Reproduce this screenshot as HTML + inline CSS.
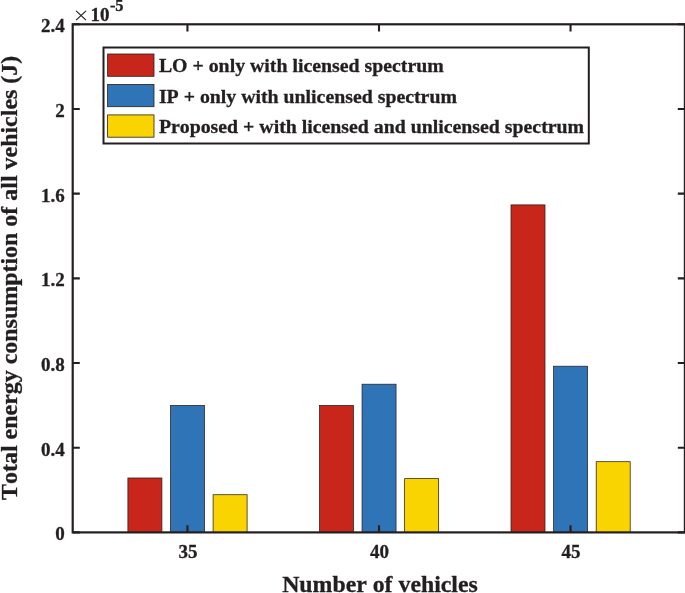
<!DOCTYPE html>
<html><head><meta charset="utf-8"><title>chart</title>
<style>
html,body{margin:0;padding:0;background:#fff;}
body{width:685px;height:593px;overflow:hidden;}
svg{display:block;will-change:transform;}
text{font-kerning:none;font-variant-ligatures:none;font-family:"Liberation Serif",serif;font-weight:bold;fill:#231f20;stroke:#231f20;stroke-width:0.3px;}
</style></head><body>
<svg width="685" height="593" viewBox="0 0 685 593">
<rect x="0" y="0" width="685" height="593" fill="#fff"/>
<rect x="127.90" y="477.99" width="34.00" height="54.41" fill="#c8261b" stroke="#2a1f1a" stroke-width="0.75"/>
<rect x="170.50" y="405.38" width="34.00" height="127.02" fill="#3074b8" stroke="#2a1f1a" stroke-width="0.75"/>
<rect x="213.10" y="494.72" width="34.00" height="37.68" fill="#fad400" stroke="#2a1f1a" stroke-width="0.75"/>
<rect x="319.45" y="405.38" width="34.00" height="127.02" fill="#c8261b" stroke="#2a1f1a" stroke-width="0.75"/>
<rect x="362.05" y="384.20" width="34.00" height="148.20" fill="#3074b8" stroke="#2a1f1a" stroke-width="0.75"/>
<rect x="404.65" y="478.63" width="34.00" height="53.77" fill="#fad400" stroke="#2a1f1a" stroke-width="0.75"/>
<rect x="511.00" y="204.89" width="34.00" height="327.51" fill="#c8261b" stroke="#2a1f1a" stroke-width="0.75"/>
<rect x="553.60" y="366.21" width="34.00" height="166.19" fill="#3074b8" stroke="#2a1f1a" stroke-width="0.75"/>
<rect x="596.20" y="461.69" width="34.00" height="70.71" fill="#fad400" stroke="#2a1f1a" stroke-width="0.75"/>
<rect x="72.70" y="24.30" width="612.20" height="508.10" fill="none" stroke="#231f20" stroke-width="2.2"/>
<path d="M187.45 532.40V525.30M187.45 24.30V31.40" stroke="#231f20" stroke-width="2.1" fill="none"/>
<path d="M379.00 532.40V525.30M379.00 24.30V31.40" stroke="#231f20" stroke-width="2.1" fill="none"/>
<path d="M570.55 532.40V525.30M570.55 24.30V31.40" stroke="#231f20" stroke-width="2.1" fill="none"/>
<path d="M72.70 532.40H79.80M684.90 532.40H677.80" stroke="#231f20" stroke-width="2.1" fill="none"/>
<path d="M72.70 447.72H79.80M684.90 447.72H677.80" stroke="#231f20" stroke-width="2.1" fill="none"/>
<path d="M72.70 363.03H79.80M684.90 363.03H677.80" stroke="#231f20" stroke-width="2.1" fill="none"/>
<path d="M72.70 278.35H79.80M684.90 278.35H677.80" stroke="#231f20" stroke-width="2.1" fill="none"/>
<path d="M72.70 193.67H79.80M684.90 193.67H677.80" stroke="#231f20" stroke-width="2.1" fill="none"/>
<path d="M72.70 108.98H79.80M684.90 108.98H677.80" stroke="#231f20" stroke-width="2.1" fill="none"/>
<path d="M72.70 24.30H79.80M684.90 24.30H677.80" stroke="#231f20" stroke-width="2.1" fill="none"/>
<text x="64.8" y="540.30" font-size="19" text-anchor="end">0</text>
<text x="64.8" y="455.62" font-size="19" text-anchor="end">0.4</text>
<text x="64.8" y="370.93" font-size="19" text-anchor="end">0.8</text>
<text x="64.8" y="286.25" font-size="19" text-anchor="end">1.2</text>
<text x="64.8" y="201.57" font-size="19" text-anchor="end">1.6</text>
<text x="64.8" y="116.88" font-size="19" text-anchor="end">2</text>
<text x="64.8" y="32.20" font-size="19" text-anchor="end">2.4</text>
<text x="187.95" y="558.3" font-size="19" text-anchor="middle">35</text>
<text x="379.50" y="558.3" font-size="19" text-anchor="middle">40</text>
<text x="571.05" y="558.3" font-size="19" text-anchor="middle">45</text>
<path d="M76.1 10.8L86 20.2M86 10.8L76.1 20.2" stroke="#231f20" stroke-width="1.15" fill="none"/>
<text x="90.6" y="20.7" font-size="19">10</text>
<text x="109.9" y="10.5" font-size="16.4">-5</text>
<text x="380" y="591.9" font-size="23.8" text-anchor="middle">Number of vehicles</text>
<text transform="translate(17.4 277.85) rotate(-90)" font-size="23.94" text-anchor="middle">Total energy consumption of all vehicles (J)</text>
<rect x="103.5" y="47.5" width="485.3" height="96" fill="#fff" stroke="#231f20" stroke-width="2"/>
<rect x="107.6" y="54.00" width="46.4" height="22.3" fill="#c8261b" stroke="#2a1f1a" stroke-width="0.8"/>
<text x="158.9" y="72.20" font-size="19.82">LO + only with licensed spectrum</text>
<rect x="107.6" y="84.40" width="46.4" height="22.3" fill="#3074b8" stroke="#2a1f1a" stroke-width="0.8"/>
<text x="158.9" y="102.60" font-size="19.82">IP + only with unlicensed spectrum</text>
<rect x="107.6" y="114.90" width="46.4" height="22.3" fill="#fad400" stroke="#2a1f1a" stroke-width="0.8"/>
<text x="158.9" y="133.10" font-size="19.82">Proposed + with licensed and unlicensed spectrum</text>
</svg>
</body></html>
